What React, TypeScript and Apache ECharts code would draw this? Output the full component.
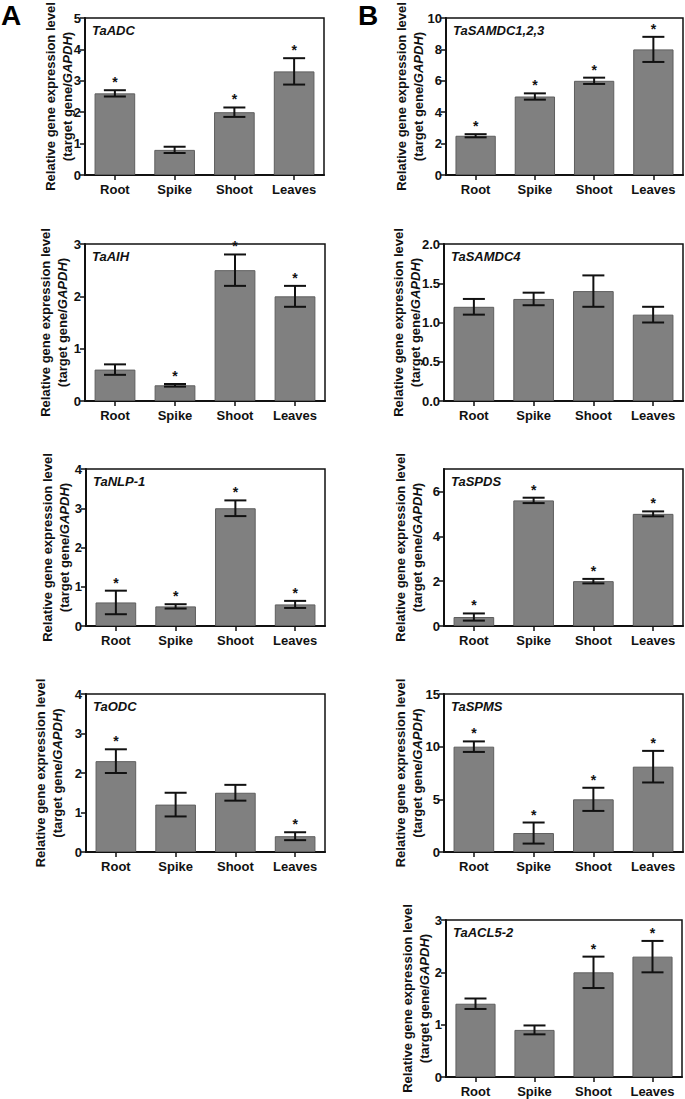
import React, { useEffect, useRef } from "react";
import * as echarts from "echarts";

const categories = ["Root", "Spike", "Shoot", "Leaves"];

const adcMean = [2.6, 0.8, 2.0, 3.3];
const adcErr = [0.1, 0.1, 0.15, 0.42];
const adcStar = [1, 0, 1, 1];

const samdc123Mean = [2.5, 5.0, 6.0, 8.0];
const samdc123Err = [0.1, 0.2, 0.2, 0.8];
const samdc123Star = [1, 1, 1, 1];

const aihMean = [0.6, 0.3, 2.5, 2.0];
const aihErr = [0.1, 0.025, 0.3, 0.2];
const aihStar = [0, 1, 1, 1];

const samdc4Mean = [1.2, 1.3, 1.4, 1.1];
const samdc4Err = [0.1, 0.08, 0.2, 0.1];
const samdc4Star = [0, 0, 0, 0];

const nlpMean = [0.6, 0.5, 3.0, 0.55];
const nlpErr = [0.3, 0.055, 0.2, 0.09];
const nlpStar = [1, 1, 1, 1];

const spdsMean = [0.4, 5.6, 2.0, 5.0];
const spdsErr = [0.16, 0.12, 0.1, 0.11];
const spdsStar = [1, 1, 1, 1];

const odcMean = [2.3, 1.2, 1.5, 0.4];
const odcErr = [0.3, 0.3, 0.2, 0.1];
const odcStar = [1, 0, 0, 1];

const spmsMean = [10.0, 1.8, 5.0, 8.1];
const spmsErr = [0.5, 1.0, 1.1, 1.5];
const spmsStar = [1, 1, 1, 1];

const aclMean = [1.4, 0.9, 2.0, 2.3];
const aclErr = [0.1, 0.085, 0.3, 0.3];
const aclStar = [0, 0, 1, 1];

const FONT = '"Liberation Sans", Arial, Helvetica, sans-serif';
const INK = "#111";

const panels = [
  { gene: "TaADC", mean: adcMean, err: adcErr, star: adcStar, max: 5, interval: 1, dec: 0, box: [85, 18, 239, 157], gap: 9.5 },
  { gene: "TaSAMDC1,2,3", mean: samdc123Mean, err: samdc123Err, star: samdc123Star, max: 10, interval: 2, dec: 0, box: [446, 18, 237, 157], gap: 19.5 },
  { gene: "TaAIH", mean: aihMean, err: aihErr, star: aihStar, max: 3, interval: 1, dec: 0, box: [85, 244, 240, 157], gap: 14.5 },
  { gene: "TaSAMDC4", mean: samdc4Mean, err: samdc4Err, star: samdc4Star, max: 2, interval: 0.5, dec: 1, box: [444, 244, 239, 157], gap: 20.5 },
  { gene: "TaNLP-1", mean: nlpMean, err: nlpErr, star: nlpStar, max: 4, interval: 1, dec: 0, box: [86, 469, 239, 157], gap: 13.5 },
  { gene: "TaSPDS", mean: spdsMean, err: spdsErr, star: spdsStar, max: 7, interval: 2, dec: 0, box: [444, 469, 239, 157], gap: 18.5 },
  { gene: "TaODC", mean: odcMean, err: odcErr, star: odcStar, max: 4, interval: 1, dec: 0, box: [86, 694, 239, 158], gap: 20.5 },
  { gene: "TaSPMS", mean: spmsMean, err: spmsErr, star: spmsStar, max: 15, interval: 5, dec: 0, box: [444, 694, 239, 158], gap: 18 },
  { gene: "TaACL5-2", mean: aclMean, err: aclErr, star: aclStar, max: 3, interval: 1, dec: 0, box: [446, 920, 236, 157], gap: 13.5 },
];

function buildOption() {
  const grid: any[] = [];
  const xAxis: any[] = [];
  const yAxis: any[] = [];
  const series: any[] = [];
  const graphic: any[] = [];

  panels.forEach((p, i) => {
    const [left, top, width, height] = p.box;
    grid.push({
      left, top, width, height,
      show: true,
      borderColor: INK,
      borderWidth: 1.5,
      backgroundColor: "transparent",
      containLabel: false,
      outerBoundsMode: "none",
    });
    xAxis.push({
      type: "category",
      gridIndex: i,
      data: categories,
      axisLine: { show: true, lineStyle: { color: INK, width: 2 } },
      axisTick: { show: true, alignWithLabel: true, length: 5, lineStyle: { color: INK, width: 1.5 } },
      axisLabel: { color: INK, fontSize: 13, fontWeight: "bold", fontFamily: FONT, margin: 8 },
      splitLine: { show: false },
    });
    yAxis.push({
      type: "value",
      gridIndex: i,
      min: 0,
      max: p.max,
      interval: p.interval,
      name: "{a|Relative gene expression level}\n{a|(target gene/}{b|GAPDH}{a|)}",
      nameLocation: "middle",
      nameRotate: 90,
      nameGap: p.gap,
      nameMoveOverlap: false,
      nameTextStyle: {
        color: INK,
        lineHeight: 17,
        rich: {
          a: { fontSize: 13, fontWeight: "bold", fontFamily: FONT, color: INK, lineHeight: 17 },
          b: { fontSize: 13, fontWeight: "bold", fontStyle: "italic", fontFamily: FONT, color: INK, lineHeight: 17 },
        },
      },
      axisLine: { show: true, lineStyle: { color: INK, width: 2 } },
      axisTick: { show: true, length: 5, lineStyle: { color: INK, width: 1.5 } },
      axisLabel: {
        color: INK,
        fontSize: 13,
        fontWeight: "bold",
        fontFamily: FONT,
        margin: 4,
        showMaxLabel: p.max % p.interval === 0 ? true : false,
        formatter: (v: number) => v.toFixed(p.dec),
      },
      splitLine: { show: false },
    });
    series.push({
      type: "bar",
      xAxisIndex: i,
      yAxisIndex: i,
      data: p.mean,
      barWidth: "68%",
      itemStyle: { color: "#808080", borderColor: "#5e5e5e", borderWidth: 1 },
      z: 2,
    });
    series.push({
      type: "custom",
      xAxisIndex: i,
      yAxisIndex: i,
      clip: false,
      z: 3,
      encode: { x: 0, y: [1, 2] },
      data: p.mean.map((m, k) => [k, m - p.err[k], m + p.err[k], p.star[k]]),
      renderItem: (params: any, api: any) => {
        const x = api.value(0);
        const lo = api.value(1);
        const hi = api.value(2);
        const st = api.value(3);
        const pHi = api.coord([x, hi]);
        const pLo = api.coord([x, lo]);
        const half = 11;
        const style = { stroke: INK, lineWidth: 2 };
        const children: any[] = [
          { type: "line", shape: { x1: pHi[0], y1: pHi[1], x2: pLo[0], y2: pLo[1] }, style },
          { type: "line", shape: { x1: pHi[0] - half, y1: pHi[1], x2: pHi[0] + half, y2: pHi[1] }, style },
          { type: "line", shape: { x1: pLo[0] - half, y1: pLo[1], x2: pLo[0] + half, y2: pLo[1] }, style },
        ];
        if (st) {
          children.push({
            type: "text",
            style: {
              text: "*",
              x: pHi[0],
              y: pHi[1] - 1,
              align: "center",
              verticalAlign: "bottom",
              fontSize: 14,
              fontWeight: "bold",
              fontFamily: FONT,
              fill: INK,
            },
          });
        }
        return { type: "group", children };
      },
    });
    graphic.push({
      type: "text",
      x: left + 7,
      y: top + 12,
      style: {
        text: p.gene,
        fontSize: 13,
        fontWeight: "bold",
        fontStyle: "italic",
        fontFamily: FONT,
        fill: INK,
        verticalAlign: "middle",
      },
    });
  });

  graphic.push({
    type: "text",
    x: 1,
    y: 15,
    style: { text: "A", fontSize: 28, fontWeight: "bold", fontFamily: FONT, fill: "#000", verticalAlign: "middle" },
  });
  graphic.push({
    type: "text",
    x: 358,
    y: 15,
    style: { text: "B", fontSize: 28, fontWeight: "bold", fontFamily: FONT, fill: "#000", verticalAlign: "middle" },
  });

  return {
    animation: false,
    backgroundColor: "#ffffff",
    textStyle: { fontFamily: FONT },
    grid,
    xAxis,
    yAxis,
    series,
    graphic,
  };
}

export default function App() {
  const ref = useRef<HTMLDivElement>(null);
  useEffect(() => {
    if (!ref.current) return;
    const chart = echarts.init(ref.current, null, { renderer: "svg" });
    chart.setOption(buildOption() as any);
    return () => chart.dispose();
  }, []);
  return (
    <div
      ref={ref}
      style={{ position: "fixed", left: 0, top: 0, width: 685, height: 1099, background: "#fff" }}
    />
  );
}
